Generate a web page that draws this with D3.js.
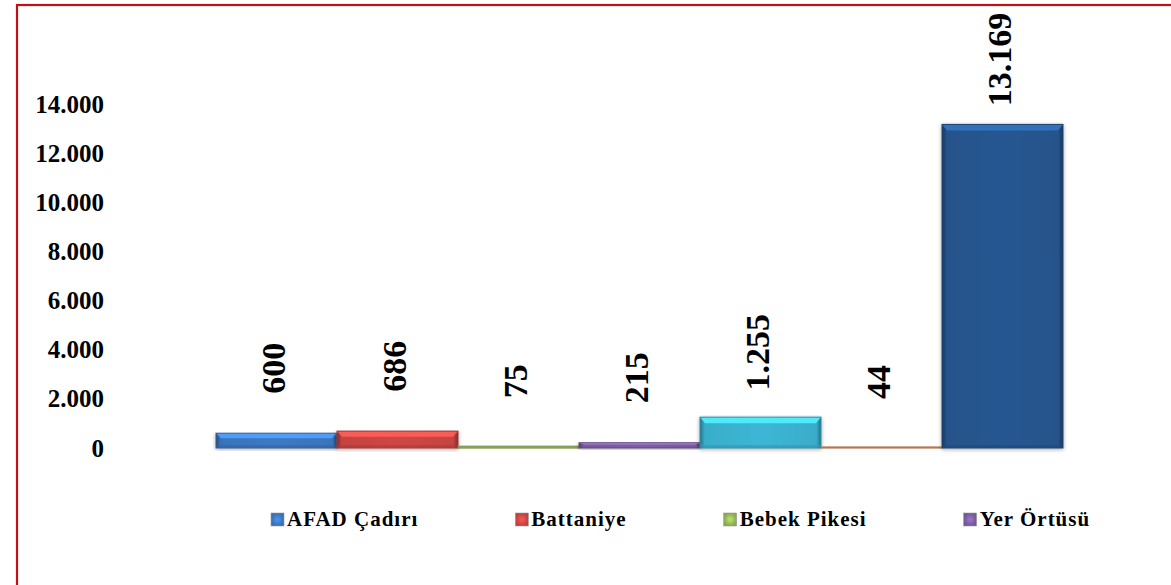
<!DOCTYPE html>
<html><head><meta charset="utf-8">
<script src="https://cdn.jsdelivr.net/npm/d3@7"></script>
<style>html,body{margin:0;padding:0;background:#fff;overflow:hidden}</style>
</head><body>
<svg id="c" width="1171" height="585"></svg>
<script>
const seriesIndex = [0, 1, 2, 3, 4, 5, 6];
const values = [600, 686, 75, 215, 1255, 44, 13169];
const valueLabels = ["600", "686", "75", "215", "1.255", "44", "13.169"];
const colors = ["#3d79c3", "#cf4744", "#98ba58", "#7f5fa6", "#3cb6d5", "#e9955f", "#275791"];
const legendLabels = ["AFAD Çadırı", "Battaniye", "Bebek Pikesi", "Yer Örtüsü"];
const yTicks = [0, 2000, 4000, 6000, 8000, 10000, 12000, 14000];
const yTickLabels = ["0", "2.000", "4.000", "6.000", "8.000", "10.000", "12.000", "14.000"];

const FONT = "'Liberation Serif', 'Times New Roman', serif";
const svg = d3.select("#c");
const defs = svg.append("defs");

// frame
svg.append("rect").attr("x", 17).attr("y", 5).attr("width", 1300).attr("height", 800)
  .attr("fill", "#fff").attr("stroke", "#c40f14").attr("stroke-width", 2.2);

const x = d3.scaleBand().domain(seriesIndex).range([216, 1063]).padding(0);
const y = d3.scaleLinear().domain([0, 14000]).range([448, 104]);

// gradients
const side = defs.append("linearGradient").attr("id", "side").attr("x1", 0).attr("x2", 1).attr("y1", 0).attr("y2", 0);
[[0, 0.35], [0.035, 0.05], [0.5, 0], [0.965, 0.05], [1, 0.35]].forEach(([o, a]) =>
  side.append("stop").attr("offset", o).attr("stop-color", "#000").attr("stop-opacity", a));

const shadow = defs.append("filter").attr("id", "sh").attr("x", "-10%").attr("y", "-10%").attr("width", "120%").attr("height", "130%");
shadow.append("feGaussianBlur").attr("in", "SourceAlpha").attr("stdDeviation", 2);
shadow.append("feOffset").attr("dx", 0).attr("dy", 1).attr("result", "b");
shadow.append("feComponentTransfer").append("feFuncA").attr("type", "linear").attr("slope", 0.35);
const mg = shadow.append("feMerge");
mg.append("feMergeNode");
mg.append("feMergeNode").attr("in", "SourceGraphic");

// y axis
const yAxis = svg.append("g").attr("transform", "translate(104,0)")
  .call(d3.axisLeft(y).tickValues(yTicks).tickFormat((d, i) => yTickLabels[i]).tickSize(0).tickPadding(0));
yAxis.select(".domain").remove();
yAxis.selectAll("text").style("font-family", FONT).style("font-size", "25px").style("font-weight", "bold").attr("fill", "#000");

// bars
const bars = svg.append("g");
seriesIndex.forEach(i => {
  const v = values[i];
  const x0 = x(i), w = x.bandwidth();
  const yt = y(v), h = Math.max(1, y(0) - yt);
  const c = d3.color(colors[i]);
  const g = bars.append("g").attr("filter", "url(#sh)");
  g.append("rect").attr("x", x0).attr("y", yt).attr("width", w).attr("height", h)
    .attr("fill", colors[i]).attr("stroke", c.darker(0.7)).attr("stroke-width", 1);
  if (h > 4) {
    g.append("rect").attr("x", x0 + 0.5).attr("y", yt + 0.5).attr("width", w - 1).attr("height", h - 1)
      .attr("fill", "url(#side)");
    const th = Math.min(6, h / 3);
    g.append("polygon")
      .attr("points", [[x0 + 0.5, yt + 0.5], [x0 + w - 0.5, yt + 0.5], [x0 + w - 5, yt + th], [x0 + 5, yt + th]].map(p => p.join(",")).join(" "))
      .attr("fill", c.brighter(0.8)).attr("opacity", 0.9);
    g.append("rect").attr("x", x0 + 0.5).attr("y", y(0) - Math.min(3, h / 4)).attr("width", w - 1).attr("height", Math.min(3, h / 4) - 0.5)
      .attr("fill", c.darker(0.5)).attr("opacity", 0.6);
  }
});

// value labels
svg.append("g").selectAll("text").data(seriesIndex).join("text")
  .attr("transform", i => `translate(${x(i) + x.bandwidth() / 2 - 3},${y(values[i]) - 65}) rotate(-90)`)
  .attr("text-anchor", "middle").attr("dy", "0.35em")
  .style("font-family", FONT).style("font-size", "34px").style("font-weight", "bold").attr("fill", "#000")
  .text(i => valueLabels[i]);

// legend
const lg = svg.append("g");
let lx = 271;
legendLabels.forEach((name, i) => {
  const c = d3.color(colors[i]);
  const rg = defs.append("radialGradient").attr("id", "lg" + i);
  rg.append("stop").attr("offset", 0).attr("stop-color", c.brighter(0.6));
  rg.append("stop").attr("offset", 1).attr("stop-color", c.darker(0.3));
  lg.append("rect").attr("x", lx).attr("y", 513).attr("width", 13).attr("height", 13)
    .attr("fill", `url(#lg${i})`).attr("stroke", "#9a9a9a").attr("stroke-width", 0.6);
  const t = lg.append("text").attr("x", lx + 16).attr("y", 526)
    .style("font-family", FONT).style("font-size", "21px").style("font-weight", "bold")
    .style("letter-spacing", "1px").attr("fill", "#000").text(name);
  const tw = t.node().getComputedTextLength();
  lx = lx + 16 + tw + 97;
});
</script>
</body></html>
